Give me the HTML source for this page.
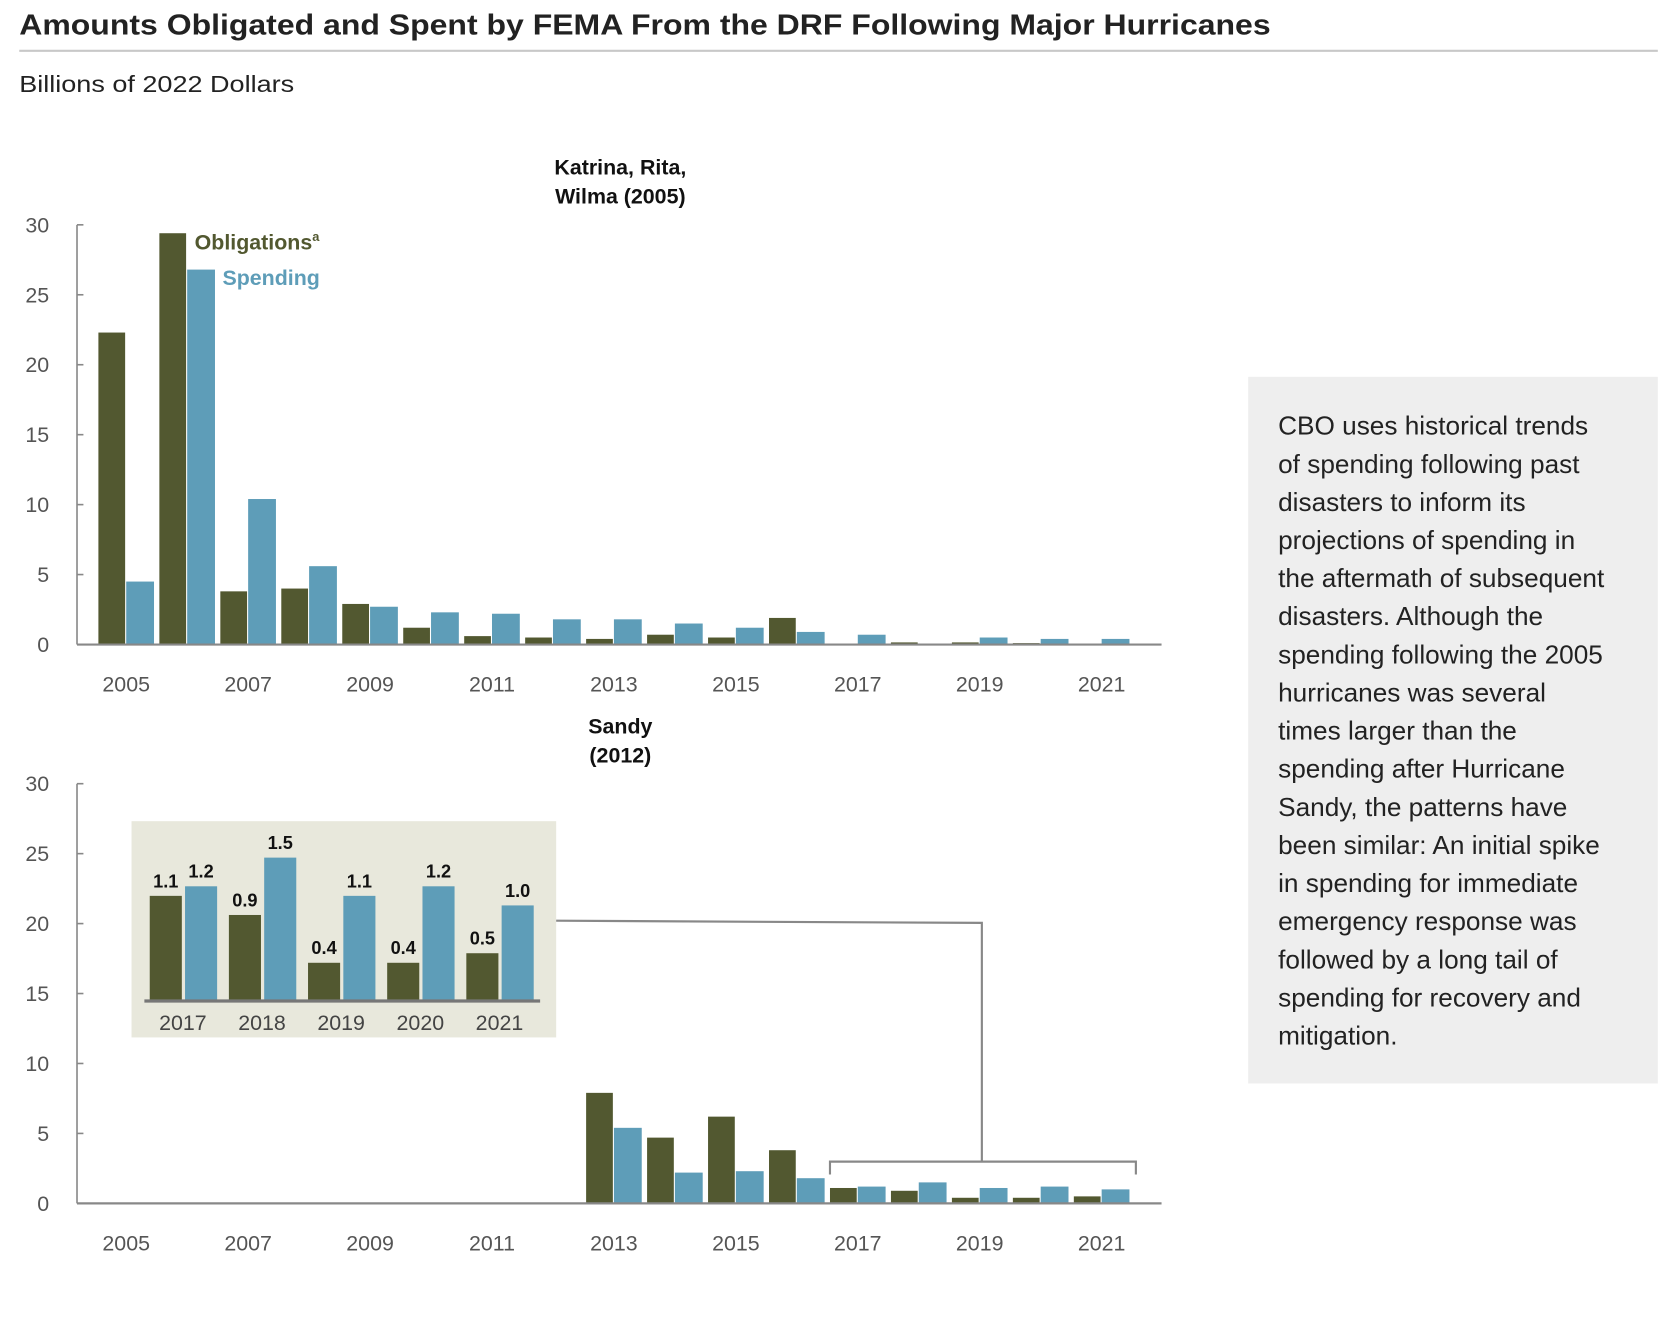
<!DOCTYPE html>
<html><head><meta charset="utf-8"><style>
html,body{margin:0;padding:0;background:#fff;}
svg{display:block;font-family:"Liberation Sans",sans-serif;}
.tick{font-size:20px;fill:#555;}
.ttl{font-size:20px;font-weight:bold;fill:#111;}
</style></head><body>
<svg id="chart" width="1676" height="1319" viewBox="0 0 1567 1232" preserveAspectRatio="none">
<text x="18" y="32" font-size="27" font-weight="bold" fill="#222" textLength="1170" lengthAdjust="spacingAndGlyphs">Amounts Obligated and Spent by FEMA From the DRF Following Major Hurricanes</text>
<line x1="18" y1="47.5" x2="1550" y2="47.5" stroke="#c8c8c8" stroke-width="2"/>
<text x="18" y="86" font-size="22" fill="#222" textLength="257" lengthAdjust="spacingAndGlyphs">Billions of 2022 Dollars</text>
<g id="p1"></g>
<g id="p2"></g>
<g id="inset"></g>
<path d="M520 860 L918 862 L918 1085 M776 1097 L776 1085 L1062 1085 L1062 1097" fill="none" stroke="#888" stroke-width="2"/>
<text x="182" y="233" font-size="20" font-weight="bold" fill="#525830">Obligations<tspan font-size="12" dy="-8">a</tspan></text>
<text x="208" y="266" font-size="20" font-weight="bold" fill="#5e9db8">Spending</text>
<rect x="1167" y="352" width="383" height="660" fill="#eeeeee"/>
<g id="note" font-size="24.5" fill="#222"></g>
</svg>
<script>
const years=[2005,2006,2007,2008,2009,2010,2011,2012,2013,2014,2015,2016,2017,2018,2019,2020,2021];
const tickLabels=["0","5","10","15","20","25","30"];
const tickValues=[0,5,10,15,20,25,30];
const katObl=[22.3,29.4,3.8,4.0,2.9,1.2,0.6,0.5,0.4,0.7,0.5,1.9,0,0.15,0.15,0.1,0];
const katSpend=[4.5,26.8,10.4,5.6,2.7,2.3,2.2,1.8,1.8,1.5,1.2,0.9,0.7,0,0.5,0.4,0.4];
const sanObl=[0,0,0,0,0,0,0,0,7.9,4.7,6.2,3.8,1.1,0.9,0.4,0.4,0.5];
const sanSpend=[0,0,0,0,0,0,0,0,5.4,2.2,2.3,1.8,1.2,1.5,1.1,1.2,1.0];
const insetYears=["2017","2018","2019","2020","2021"];
const insetObl=[1.1,0.9,0.4,0.4,0.5];
const insetSpend=[1.2,1.5,1.1,1.2,1.0];
const noteLines=["CBO uses historical trends","of spending following past","disasters to inform its","projections of spending in","the aftermath of subsequent","disasters. Although the","spending following the 2005","hurricanes was several","times larger than the","spending after Hurricane","Sandy, the patterns have","been similar: An initial spike","in spending for immediate","emergency response was","followed by a long tail of","spending for recovery and","mitigation."];
const NS="http://www.w3.org/2000/svg";
function mk(parent,tag,attrs,text){const e=document.createElementNS(NS,tag);for(const k in attrs)e.setAttribute(k,attrs[k]);if(text!==undefined)e.textContent=text;parent.appendChild(e);return e;}
const OL="#525830",BL="#5e9db8";
function panel(g,base,title,obl,sp){
  const y=v=>base-v*(392/30);
  const x=i=>118+57*i;
  const t=mk(g,'text',{x:580,y:base-439,'text-anchor':'middle',class:'ttl'});
  
  
  title.forEach((s,k)=>{mk(t,'tspan',{x:580,dy:k?27:0},s);});
  const ax=mk(g,'line',{x1:72,y1:y(30),x2:72,y2:base,stroke:'#888','stroke-width':1.5});
  
  
  tickValues.forEach((v,k)=>{
    const l=mk(g,'text',{x:46,y:y(v)+7,'text-anchor':'end',class:'tick'},tickLabels[k]);
    
    
    mk(g,'line',{x1:72,y1:y(v),x2:78,y2:y(v),stroke:'#888','stroke-width':1.5});
  });
  years.forEach((yr,i)=>{
    const cx=x(i);
    if(obl[i]>0){const r=mk(g,'rect',{x:cx-26,y:y(obl[i]),width:25,height:base-y(obl[i]),fill:OL});
      
      }
    if(sp[i]>0){const r=mk(g,'rect',{x:cx,y:y(sp[i]),width:26,height:base-y(sp[i]),fill:BL});
      
      }
    if(i%2===0){const l=mk(g,'text',{x:cx,y:base+44,'text-anchor':'middle',class:'tick'},String(yr));
      
      }
  });
  const xa=mk(g,'line',{x1:72,y1:base,x2:1086,y2:base,stroke:'#888','stroke-width':2});
  
  
}
panel(document.getElementById('p1'),602,["Katrina, Rita,","Wilma (2005)"],katObl,katSpend);
panel(document.getElementById('p2'),1124,["Sandy","(2012)"],sanObl,sanSpend);
(function(){
  const g=document.getElementById('inset');
  const bg=mk(g,'rect',{x:123,y:767,width:397,height:202,fill:'#e8e8dc'});
  
  
  const base=935,y=v=>base-v*89.3,x=i=>171+74*i;
  insetYears.forEach((yr,i)=>{
    const cx=x(i);
    const a=mk(g,'rect',{x:cx-31,y:y(insetObl[i]),width:30,height:base-y(insetObl[i]),fill:OL});
    
    
    const b=mk(g,'rect',{x:cx+2,y:y(insetSpend[i]),width:30,height:base-y(insetSpend[i]),fill:BL});
    
    
    const la=mk(g,'text',{x:cx-16,y:y(insetObl[i])-8,'text-anchor':'middle','font-size':17,'font-weight':'bold',fill:'#111'},insetObl[i].toFixed(1));
    
    
    const lb=mk(g,'text',{x:cx+17,y:y(insetSpend[i])-8,'text-anchor':'middle','font-size':17,'font-weight':'bold',fill:'#111'},insetSpend[i].toFixed(1));
    
    
    const t=mk(g,'text',{x:cx,y:962,'text-anchor':'middle','font-size':20,fill:'#444'},yr);
    
    
  });
  const ax=mk(g,'line',{x1:135,y1:base,x2:505,y2:base,stroke:'#777','stroke-width':3});
  
  
})();
(function(){
  const g=document.getElementById('note');
  noteLines.forEach((s,k)=>{mk(g,'text',{x:1195,y:406+35.6*k},s);});
})();
</script>
</body></html>
